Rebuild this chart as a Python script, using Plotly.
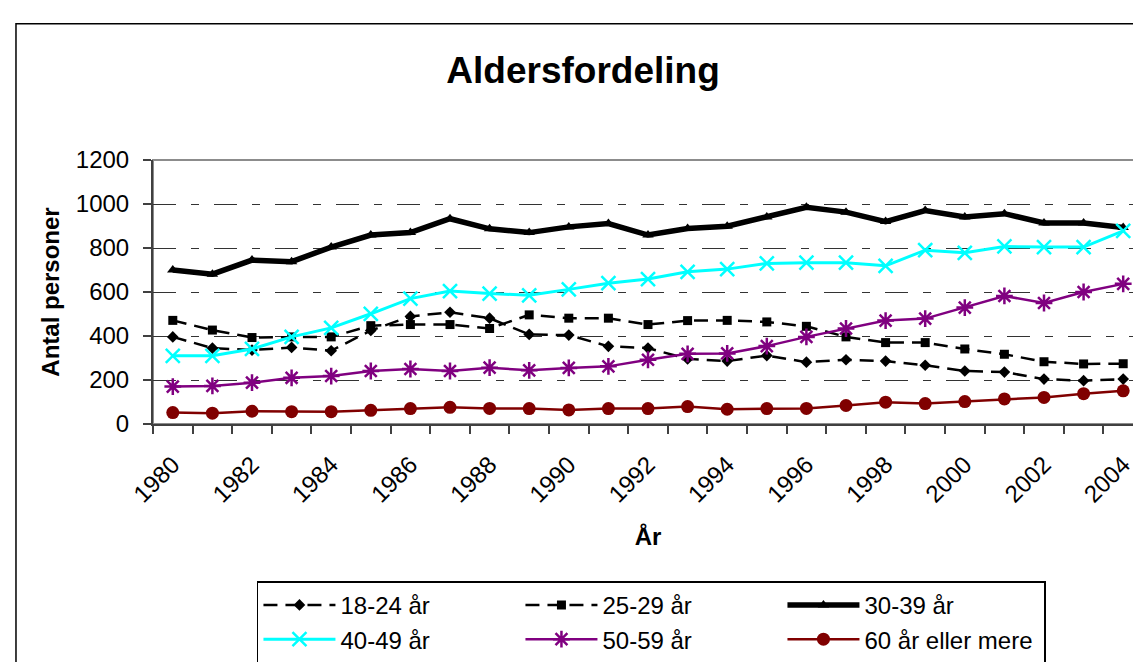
import plotly.graph_objects as go

years = list(range(1980, 2005))

age_18_24 = [396, 345, 336, 348, 333, 425, 489, 508, 481, 407, 404, 353, 345,
             296, 286, 311, 281, 292, 286, 267, 241, 236, 204, 197, 204]
age_25_29 = [471, 427, 393, 396, 396, 447, 452, 452, 434, 496, 481, 481, 452,
             470, 471, 464, 444, 396, 370, 370, 341, 317, 283, 273, 274]
age_30_39 = [700, 681, 745, 738, 804, 859, 870, 933, 887, 870, 896, 911, 859,
             889, 899, 941, 985, 963, 920, 970, 941, 956, 914, 914, 893]
age_40_49 = [310, 310, 341, 396, 437, 501, 570, 604, 593, 585, 612, 640, 659,
             692, 704, 730, 733, 733, 719, 790, 778, 807, 804, 804, 878]
age_50_59 = [170, 173, 188, 210, 218, 241, 250, 241, 256, 244, 255, 262, 292,
             319, 321, 354, 396, 434, 470, 479, 529, 582, 550, 600, 637]
age_60 = [52, 49, 58, 56, 56, 62, 70, 76, 71, 70, 64, 70, 70,
          79, 67, 70, 71, 84, 99, 93, 102, 114, 121, 138, 151]

names = ["18-24 år", "25-29 år", "30-39 år", "40-49 år", "50-59 år", "60 år eller mere"]
tick_years = years[::2]

FONT = "Liberation Sans, Arial, sans-serif"

fig = go.Figure()

# (values, colour, line width, dash, marker symbol, marker size)
series = [
    (age_18_24, "black", 2.5, "14px,8px", "diamond", 9),
    (age_25_29, "black", 2.5, "14px,8px", "square", 9),
    (age_30_39, "black", 5.5, "solid", "triangle-up", 10),
    (age_40_49, "#00FFFF", 3, "solid", "x-thin-open", 14),
    (age_50_59, "#800080", 2.5, "solid", "asterisk-open", 14),
    (age_60, "#800000", 2.5, "solid", "circle", 13),
]

for name, (vals, col, lw, dash, sym, size) in zip(names, series):
    fig.add_trace(go.Scatter(
        x=years, y=vals, name=name, mode="lines+markers",
        line=dict(color=col, width=lw, dash=dash),
        marker=dict(symbol=sym, size=size, color=col,
                    line=dict(color=col, width=2.5 if "open" in sym else 0)),
    ))

# plot area border (gray) and outer chart border
fig.add_shape(type="rect", xref="paper", yref="paper", x0=0, x1=1, y0=0, y1=1,
              line=dict(color="#8c8c8c", width=2), layer="below")
fig.add_shape(type="rect", xref="paper", yref="paper",
              x0=-0.1384, x1=1.0101, y0=-0.91, y1=1.5159,
              line=dict(color="black", width=1.5), layer="below")

fig.update_layout(
    width=1141, height=662,
    margin=dict(l=145, r=6, t=152, b=240),
    paper_bgcolor="white", plot_bgcolor="white",
    font=dict(family=FONT, size=24, color="black"),
    title=dict(text="<b>Aldersfordeling</b>", x=0.504, xref="container",
               xanchor="center", y=1 - 62 / 662, yanchor="middle",
               font=dict(size=37, family=FONT, color="black")),
    showlegend=True,
    legend=dict(orientation="h", x=0.105, y=-0.596, xanchor="left", yanchor="top",
                bordercolor="black", borderwidth=1.5, bgcolor="white",
                itemwidth=72, entrywidth=175, entrywidthmode="pixels",
                font=dict(size=24, family=FONT), traceorder="normal"),
)

fig.update_xaxes(
    range=[1979.5, 2004.5], tickmode="array", tickvals=tick_years,
    ticktext=[str(y) for y in tick_years], tickangle=-45,
    ticks="", showgrid=False, zeroline=False, ticklabelstandoff=15,
    showline=True, linecolor="#404040", linewidth=2,
    minor=dict(ticks="outside", tick0=1979.5, dtick=1, ticklen=8,
               tickcolor="#404040", tickwidth=1.5, showgrid=False),
    title=dict(text="<b>År</b>", font=dict(size=24), standoff=22),
)
fig.update_yaxes(
    range=[0, 1200], dtick=200, ticks="outside", ticklen=8, tickwidth=1.5,
    tickcolor="#404040", showline=True, linecolor="#404040", linewidth=2,
    showgrid=True, gridcolor="#333333", gridwidth=1, griddash="23px,15px,8px,15px",
    zeroline=False, ticklabelstandoff=9,
    title=dict(text="<b>Antal personer</b>", font=dict(size=24), standoff=9),
)

fig.write_html("out.html")
